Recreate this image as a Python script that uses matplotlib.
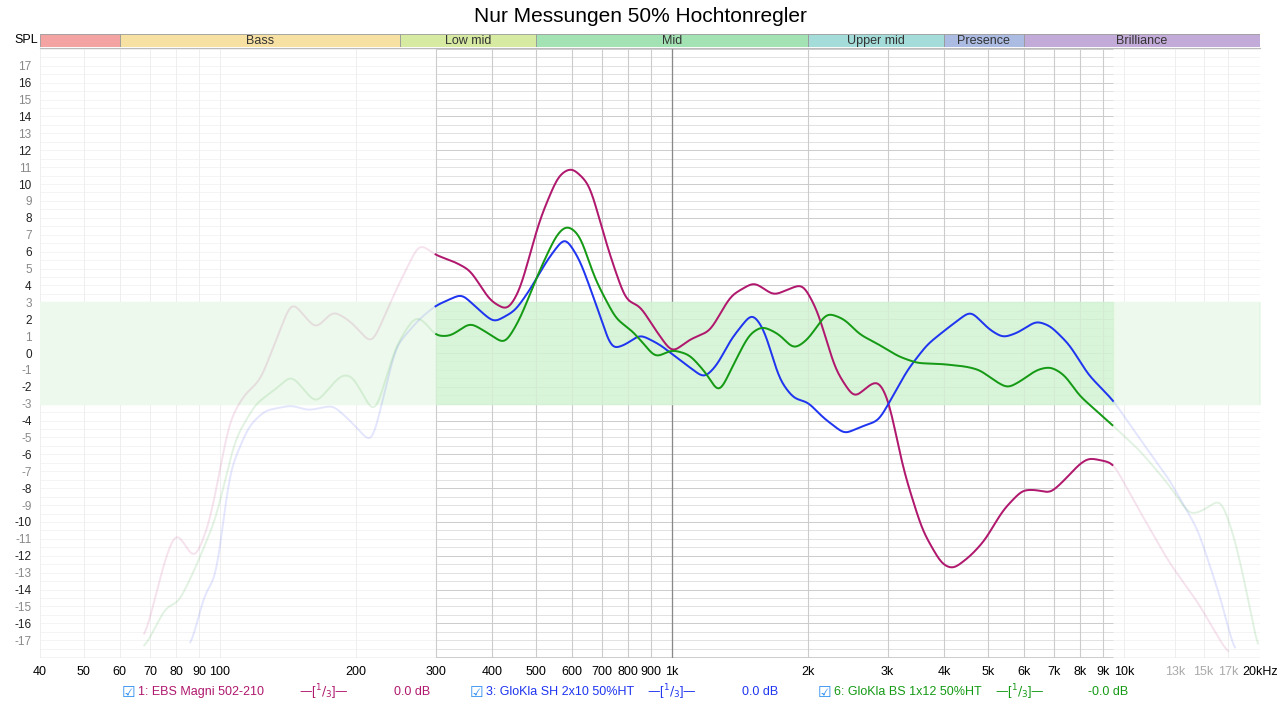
import numpy as np
import matplotlib.pyplot as plt
from matplotlib.patches import Rectangle

plt.rcParams['font.family'] = ['Liberation Sans', 'DejaVu Sans']

# frequency (Hz) / level (dB)
ebs_f = [68, 76, 80, 88, 95, 105, 113, 123, 144, 163, 178, 194, 217, 245, 276, 300, 330, 358, 396,
         433, 461, 510, 560, 600, 657, 725, 790, 850, 918, 1000, 1095, 1215, 1350, 1520, 1680, 1820,
         1950, 2100, 2300, 2530, 2730, 2870, 3020, 3250, 3580, 3950, 4190, 4580, 4920, 5400, 5960,
         6400, 6880, 7400, 7950, 8350, 9460, 10860, 12600, 14600, 17000]
ebs_db = [-17, -12, -10.5, -12.3, -10, -4, -2.5, -1.6, 3.1, 1.4, 2.5, 1.9, 0.5, 3.7, 6.5, 5.8, 5.4, 4.9, 3.1,
          2.5, 3.7, 7.9, 10.5, 11, 10, 6, 3.1, 2.8, 1.4, 0, 0.8, 1.3, 3.4, 4.2, 3.4, 3.8,
          4.1, 2.5, -1, -2.7, -1.9, -1.6, -2.8, -6.9, -10.5, -12.5, -12.8, -12, -11.1, -9.3, -8.1,
          -8.1, -8.3, -7.5, -6.6, -6.2, -6.5, -9.4, -12.4, -14.8, -17.8]

sh_f = [86, 93, 98, 105, 116, 126, 144, 157, 178, 194, 217, 245, 276, 300, 343, 376, 404, 450, 484,
        530, 580, 626, 675, 735, 790, 850, 940, 1040, 1180, 1260, 1350, 1505, 1600, 1730, 1860,
        2000, 2155, 2410, 2600, 2870, 3090, 3320, 3670, 4040, 4580, 5030, 5400, 5820, 6400, 6880,
        7570, 8350, 9460, 10860, 12600, 14600, 16400, 17600]
sh_db = [-17.5, -14, -13.5, -7, -4.3, -3.4, -3.1, -3.4, -3.1, -4, -5.4, 0.4, 2, 2.8, 3.5, 2.5, 1.8, 2.5, 3.7,
         5.5, 6.9, 5.5, 3.1, 0.2, 0.5, 1.1, 0.5, -0.4, -1.5, -0.7, 0.8, 2.4, 1.4, -1.6, -2.7,
         -2.9, -3.8, -4.8, -4.4, -4, -2.5, -1, 0.5, 1.4, 2.5, 1.4, 0.9, 1.2, 1.9, 1.6,
         0.5, -1.3, -2.8, -5.1, -7.5, -10.5, -14.6, -17.8]

bs_f = [68, 76, 81, 88, 98, 108, 120, 132, 144, 163, 185, 196, 220, 245, 270, 283, 300, 324, 358,
        396, 427, 461, 510, 555, 585, 626, 675, 752, 810, 870, 918, 1000, 1095, 1200, 1270, 1350,
        1480, 1585, 1730, 1860, 2000, 2200, 2410, 2600, 2870, 3170, 3490, 3950, 4470, 4800, 5150,
        5530, 5960, 6400, 6880, 7400, 7950, 9460, 10860, 12400, 14000, 15000, 16400, 17600, 19000, 19800]
bs_db = [-17.5, -15, -14.8, -12.8, -9.8, -5.1, -3, -2.2, -1.3, -3, -1.3, -1.3, -3.7, 0.4, 2.2, 1.9, 1, 1, 1.8,
         1.1, 0.5, 2, 4.9, 7, 7.6, 7, 4.4, 2, 1.4, 0.5, -0.3, 0.2, -0.1, -1.3, -2.5, -1,
         1.1, 1.6, 1.1, 0.2, 0.8, 2.4, 2, 1.1, 0.5, -0.2, -0.6, -0.65, -0.8, -1, -1.6,
         -2.1, -1.6, -1, -0.8, -1.3, -2.5, -4.3, -5.8, -7.6, -9.6, -9.3, -8.6, -11, -15, -17.8]

series = [("1: EBS Magni 502-210", ebs_f, ebs_db, "#b0186e", "0.0 dB"),
          ("3: GloKla SH 2x10 50%HT", sh_f, sh_db, "#1f35f0", "0.0 dB"),
          ("6: GloKla BS 1x12 50%HT", bs_f, bs_db, "#159a15", "-0.0 dB")]

bands = [("", 40, 60, "#f4a3a3"), ("Bass", 60, 250, "#f6e0a2"), ("Low mid", 250, 500, "#d6eaa2"),
         ("Mid", 500, 2000, "#a3e2b3"), ("Upper mid", 2000, 4000, "#a3dcd8"),
         ("Presence", 4000, 6000, "#abbbe2"), ("Brilliance", 6000, 20000, "#c3abd9")]

xticks = [40, 50, 60, 70, 80, 90, 100, 200, 300, 400, 500, 600, 700, 800, 900, 1000,
          2000, 3000, 4000, 5000, 6000, 7000, 8000, 9000, 10000, 13000, 15000, 17000, 20000]
xlabels = ["40", "50", "60", "70", "80", "90", "100", "200", "300", "400", "500", "600", "700", "800",
           "900", "1k", "2k", "3k", "4k", "5k", "6k", "7k", "8k", "9k", "10k", "13k", "15k", "17k", "20kHz"]

f_lo, f_hi = 300, 9460


def smooth(fs, dbs):
    lf = np.log10(fs)
    x = np.linspace(lf[0], lf[-1], 1500)
    y = np.interp(x, lf, dbs)
    k = np.exp(-0.5 * (np.arange(-20, 21) / 6.0) ** 2)
    k /= k.sum()
    yp = np.pad(y, 20, mode="edge")
    y = np.convolve(yp, k, mode="valid")
    return 10 ** x, y


fig = plt.figure(figsize=(12.8, 7.05), dpi=100)
W, H = 1280, 705
ax = fig.add_axes([40 / W, 1 - 658 / H, 1220 / W, 610 / H])
ax.set_xscale("log")
ax.set_xlim(40, 20000)
ax.set_ylim(-18.05, 18.05)

# grid
for v in np.arange(-18, 18.01, 0.5):
    ax.axhline(v, color="#f3f3f3", lw=0.6, zorder=0)
    c = "#cccccc" if v == int(v) and int(v) % 2 == 0 else "#e2e2e2"
    ax.hlines(v, f_lo, f_hi, color=c, lw=0.7, zorder=0.5)
for f in xticks:
    ax.axvline(f, color="#eeeeee", lw=0.7, zorder=0)
    if f_lo <= f <= f_hi:
        ax.vlines(f, -18.05, 18.05, color="#cccccc", lw=0.8, zorder=0.5)
ax.vlines(1000, -18.05, 18.05, color="#888888", lw=0.9, zorder=0.6)

# target band
ax.fill_between([40, 20000], -3, 3, color="#edf9ed", zorder=0.2)
ax.fill_between([f_lo, f_hi], -3, 3, color="#d4f4d4", zorder=0.7, alpha=0.8)
ax.vlines(20000, -3, 3, color="#bfe8bf", lw=1)

for name, fs, dbs, col, gain in series:
    x, y = smooth(fs, dbs)
    ax.plot(x, y, color=col, lw=1.4, alpha=0.12, zorder=1)
    m = (x >= f_lo) & (x <= f_hi)
    ax.plot(x[m], y[m], color=col, lw=1.4, zorder=2)

ax.set_xticks(xticks)
ax.set_xticklabels(xlabels, fontsize=9)
ax.minorticks_off()
for lbl, f in zip(ax.get_xticklabels(), xticks):
    if f in (13000, 15000, 17000):
        lbl.set_color("#aaaaaa")
ax.set_yticks(range(-17, 18))
ax.set_yticklabels([str(v) for v in range(-17, 18)], fontsize=8.5)
for lbl, v in zip(ax.get_yticklabels(), range(-17, 18)):
    lbl.set_color("#222222" if v % 2 == 0 else "#888888")
ax.tick_params(length=0, pad=6)
for s in ax.spines.values():
    s.set_visible(False)
ax.spines["top"].set_visible(True)
ax.spines["top"].set_color("#bbbbbb")

# frequency band header
bx = fig.add_axes([40 / W, 1 - 47 / H, 1220 / W, 13 / H])
bx.set_xscale("log")
bx.set_xlim(40, 20000)
bx.set_ylim(0, 1)
bx.axis("off")
for name, a, b, col in bands:
    bx.add_patch(Rectangle((a, 0), b - a, 1, facecolor=col, edgecolor="#999999", lw=0.6))
    bx.text(np.sqrt(a * b), 0.45, name, ha="center", va="center", fontsize=9, color="#333333")
fig.text(38 / W, 1 - 40 / H, "SPL", ha="right", va="center", fontsize=9)

fig.text(0.5, 1 - 17 / H, "Nur Messungen 50% Hochtonregler", ha="center", va="center", fontsize=15)

# legend row
xs = [122, 470, 818]
for (name, fs, dbs, col, gain), x0 in zip(series, xs):
    yy = 1 - 692 / H
    fig.text(x0 / W, yy, "\u2611", color="#2a8cf0", fontsize=11, va="center", ha="left",
             family="DejaVu Sans")
    fig.text((x0 + 16) / W, yy, name, color=col, fontsize=9, va="center")
    fig.text((x0 + 202) / W, yy, "\u2014[$^1/_3$]\u2014", color=col, fontsize=9, va="center", ha="center")
    fig.text((x0 + 290) / W, yy, gain, color=col, fontsize=9, va="center", ha="center")

fig.savefig("out.png", dpi=100)
